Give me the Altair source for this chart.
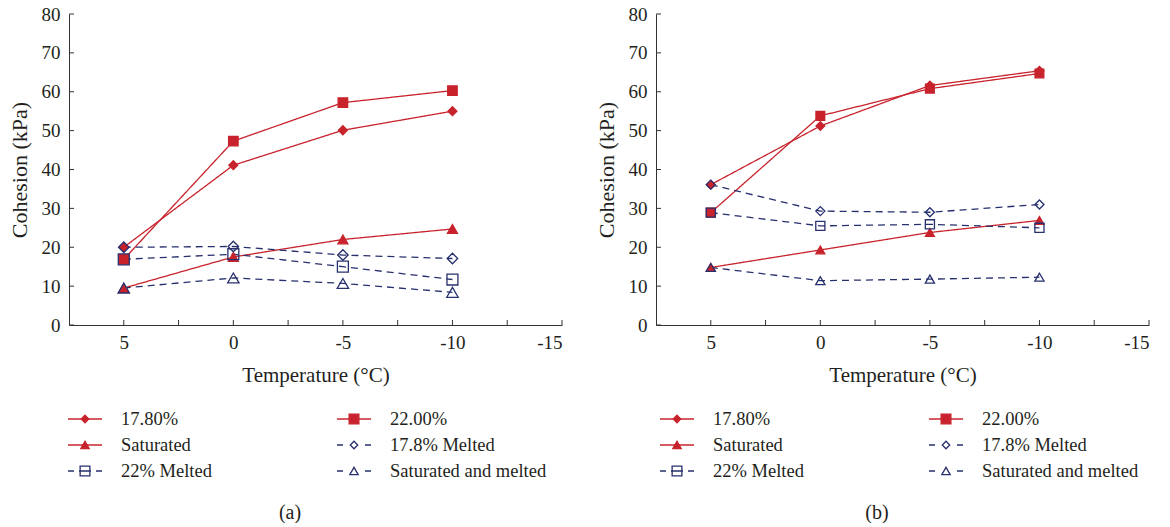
import altair as alt
import pandas as pd

# ---------------- data ----------------
temps = [5, 0, -5, -10]
series = ["17.80%", "22.00%", "Saturated", "17.8% Melted", "22% Melted", "Saturated and melted"]

a_178 = [20.0, 41.1, 50.1, 55.0]
a_220 = [16.9, 47.3, 57.2, 60.3]
a_sat = [9.5, 17.5, 22.0, 24.7]
a_178m = [20.0, 20.2, 18.0, 17.1]
a_220m = [16.9, 18.2, 15.0, 11.7]
a_satm = [9.5, 12.1, 10.7, 8.4]

b_178 = [36.1, 51.2, 61.6, 65.4]
b_220 = [28.9, 53.8, 60.8, 64.7]
b_sat = [14.8, 19.3, 23.8, 26.9]
b_178m = [36.1, 29.3, 29.0, 31.0]
b_220m = [28.9, 25.5, 25.9, 25.0]
b_satm = [14.8, 11.4, 11.8, 12.3]

x_ticks = [5, 2.5, 0, -2.5, -5, -7.5, -10, -12.5, -15]
y_ticks = [0, 10, 20, 30, 40, 50, 60, 70, 80]
captions = ["(a)", "(b)"]

# ---------------- styles ----------------
RED = "#c8232c"
NAVY = "#27306e"
AX = "#333333"
TXT = "#231f20"
FONT = "Liberation Serif, serif"
colors = [RED, RED, RED, NAVY, NAVY, NAVY]
shapes = ["diamond", "square", "triangle-up", "diamond", "square", "triangle-up"]
fills = [RED, RED, RED, "transparent", "transparent", "transparent"]
dashes = [[1, 0], [1, 0], [1, 0], [7, 5], [7, 5], [7, 5]]
sizes_a = [80, 130, 120, 90, 130, 120]
sizes_b = [75, 85, 110, 95, 85, 120]
legend_sizes = {"diamond": 55, "square": 95, "triangle-up": 70}
legend_dash = {"17.8% Melted": [6, 22], "22% Melted": [6, 5, 12, 5, 6],
               "Saturated and melted": [6, 22]}

PW, PH = 493, 311
LH = 125

cscale = alt.Scale(domain=series, range=colors)
sscale = alt.Scale(domain=series, range=shapes)
fscale = alt.Scale(domain=series, range=fills)
dscale = alt.Scale(domain=series, range=dashes)

xscale = alt.Scale(domain=[7.5, -15], nice=False, zero=False)
yscale = alt.Scale(domain=[0, 80], nice=False)
xaxis = alt.Axis(values=x_ticks,
                 labelExpr="datum.value % 5 == 0 ? '' + datum.value : ''",
                 tickSize=0, labelPadding=8, grid=False, labelOverlap=False,
                 title="Temperature (°C)", titlePadding=12, titleFontSize=21)
yaxis = alt.Axis(values=y_ticks, tickSize=0, labelPadding=9, grid=False,
                 labelOverlap=False, labelBound=False,
                 title="Cohesion (kPa)", titlePadding=10, titleFontSize=22)


def make_plot(values, sizes):
    rows = []
    for name, vals in zip(series, values):
        for t, v in zip(temps, vals):
            rows.append({"temp": t, "val": v, "series": name})
    df = pd.DataFrame(rows)
    x = alt.X("temp:Q", scale=xscale, axis=xaxis)
    y = alt.Y("val:Q", scale=yscale, axis=yaxis)
    base = alt.Chart(df)
    lines = base.mark_line(strokeWidth=1.3).encode(
        x=x, y=y,
        color=alt.Color("series:N", scale=cscale, legend=None),
        strokeDash=alt.StrokeDash("series:N", scale=dscale, legend=None),
    )
    pts = base.mark_point(strokeWidth=1.3, opacity=1, fillOpacity=1).encode(
        x=x, y=y,
        color=alt.Color("series:N", scale=cscale, legend=None),
        fill=alt.Fill("series:N", scale=fscale, legend=None),
        shape=alt.Shape("series:N", scale=sscale, legend=None),
        size=alt.Size("series:N", scale=alt.Scale(domain=series, range=sizes), legend=None),
    )
    xtk = alt.Chart(pd.DataFrame({"temp": x_ticks})).mark_rule(color=AX, strokeWidth=1).encode(
        x=x, y=alt.value(PH), y2=alt.value(PH - 5)
    )
    ytk = alt.Chart(pd.DataFrame({"val": y_ticks})).mark_rule(color=AX, strokeWidth=1).encode(
        y=y, x=alt.value(0), x2=alt.value(5)
    )
    return alt.layer(lines, pts, xtk, ytk).properties(width=PW, height=PH)


def make_legend(caption, shift):
    ld = pd.DataFrame({
        "series": series,
        "col": [i % 2 for i in range(len(series))],
        "row": [i // 2 for i in range(len(series))],
        "shape": shapes,
    })
    lx = alt.X("col:Q", scale=alt.Scale(domain=[0, 1], range=[16 + shift, 285 + shift]), axis=None)
    ly = alt.Y("row:Q", scale=alt.Scale(domain=[0, 2], range=[24, 76]), axis=None)
    base = alt.Chart(ld)
    col = alt.Color("series:N", scale=cscale, legend=None)
    layers = [base.transform_filter(alt.FieldOneOfPredicate(field="series", oneOf=series[:3]))
              .mark_rule(strokeWidth=1.3, xOffset=-17, x2Offset=17)
              .encode(x=lx, x2="col:Q", y=ly, color=col)]
    for name, dash in legend_dash.items():
        layers.append(base.transform_filter(alt.FieldEqualPredicate(field="series", equal=name))
                      .mark_rule(strokeWidth=1.3, xOffset=-17, x2Offset=17, strokeDash=dash)
                      .encode(x=lx, x2="col:Q", y=ly, color=col))
    for shp, sz in legend_sizes.items():
        layers.append(base.transform_filter(alt.FieldEqualPredicate(field="shape", equal=shp))
                      .mark_point(strokeWidth=1.3, opacity=1, fillOpacity=1, size=sz)
                      .encode(x=lx, y=ly, color=col,
                              fill=alt.Fill("series:N", scale=fscale, legend=None),
                              shape=alt.Shape("series:N", scale=sscale, legend=None)))
    layers.append(base.mark_text(align="left", baseline="middle", dx=36, font=FONT,
                                 fontSize=18.5, color=TXT).encode(x=lx, y=ly, text="series:N"))
    layers.append(alt.Chart(pd.DataFrame({"c": [caption]})).mark_text(
        align="center", baseline="middle", font=FONT, fontSize=20, color=TXT).encode(
        x=alt.value(221), y=alt.value(118), text="c:N"))
    return alt.layer(*layers).properties(width=PW, height=LH)


pa = alt.vconcat(make_plot([a_178, a_220, a_sat, a_178m, a_220m, a_satm], sizes_a),
                 make_legend(captions[0], 0), spacing=10).resolve_scale(x="independent", y="independent")
pb = alt.vconcat(make_plot([b_178, b_220, b_sat, b_178m, b_220m, b_satm], sizes_b),
                 make_legend(captions[1], 5), spacing=10).resolve_scale(x="independent", y="independent")

chart = alt.hconcat(pa, pb, spacing=32).resolve_scale(
    x="independent", y="independent", size="independent"
).properties(
    padding={"left": 8, "top": 5, "right": 5, "bottom": 0},
    background="white",
).configure_view(stroke=None).configure_axis(
    domainColor=AX, tickColor=AX, labelColor=TXT, titleColor=TXT,
    labelFont=FONT, titleFont=FONT, labelFontSize=19,
    titleFontWeight="normal", domainWidth=1, tickWidth=1,
)

chart.save("out.html", embed_options={"renderer": "svg", "actions": False})
